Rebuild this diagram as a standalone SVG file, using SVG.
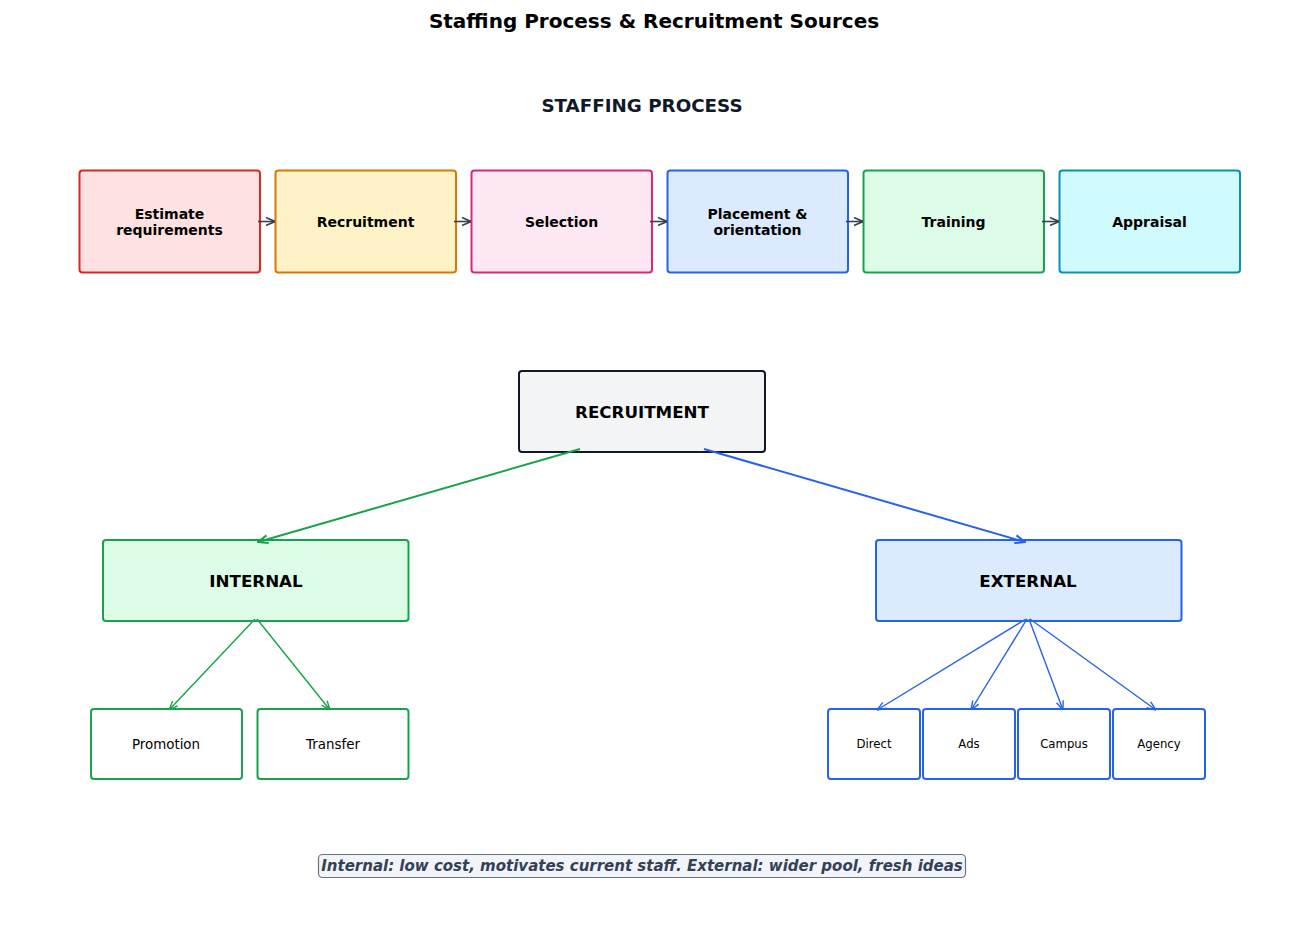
<svg xmlns="http://www.w3.org/2000/svg" width="1307" height="946" viewBox="0 0 1307 946">
<style>
text{font-family:"DejaVu Sans",sans-serif;text-anchor:middle;dominant-baseline:central}
.t{font-weight:bold;font-size:14px;fill:#000}
.b{stroke-width:2}
.lg{font-weight:bold;font-size:16.7px;fill:#000}
.s{font-size:13.4px;fill:#000}
.xs{font-size:11.7px;fill:#000}
</style>
<defs>
<marker id="ag" viewBox="0 0 10 10" refX="10" refY="5" markerWidth="10" markerHeight="10" markerUnits="userSpaceOnUse" orient="auto"><path d="M1,1 L10,5 L1,9" fill="none" stroke="#374151" stroke-width="1.6"/></marker>
<marker id="gr" viewBox="0 0 12 12" refX="11" refY="6" markerWidth="12" markerHeight="12" markerUnits="userSpaceOnUse" orient="auto"><path d="M1,2 L11,6 L1,10" fill="none" stroke="#16a34a" stroke-width="2"/></marker>
<marker id="bl" viewBox="0 0 12 12" refX="11" refY="6" markerWidth="12" markerHeight="12" markerUnits="userSpaceOnUse" orient="auto"><path d="M1,2 L11,6 L1,10" fill="none" stroke="#2563eb" stroke-width="2"/></marker>
<marker id="gr2" viewBox="0 0 10 10" refX="10" refY="5" markerWidth="10" markerHeight="10" markerUnits="userSpaceOnUse" orient="auto"><path d="M1,1.5 L10,5 L1,8.5" fill="none" stroke="#16a34a" stroke-width="1.4"/></marker>
<marker id="bl2" viewBox="0 0 10 10" refX="10" refY="5" markerWidth="10" markerHeight="10" markerUnits="userSpaceOnUse" orient="auto"><path d="M1,1.5 L10,5 L1,8.5" fill="none" stroke="#2563eb" stroke-width="1.4"/></marker>
</defs>
<rect width="1307" height="946" fill="#fff"/>
<text x="654" y="21" style="font-weight:bold;font-size:20px;fill:#000">Staffing Process &amp; Recruitment Sources</text>
<text x="642" y="105" style="font-weight:bold;font-size:18.3px;fill:#111827">STAFFING PROCESS</text>

<g id="step1"><rect class="b" x="79.5" y="170.5" width="180.5" height="102" rx="3" fill="#fee2e2" stroke="#dc2626"/><text class="t" x="169.5" y="213.5">Estimate</text><text class="t" x="169.5" y="229.5">requirements</text></g>
<g id="step2"><rect class="b" x="275.5" y="170.5" width="180.5" height="102" rx="3" fill="#fef3c7" stroke="#d97706"/><text class="t" x="365.5" y="221.5">Recruitment</text></g>
<g id="step3"><rect class="b" x="471.5" y="170.5" width="180.5" height="102" rx="3" fill="#fce7f3" stroke="#db2777"/><text class="t" x="561.5" y="221.5">Selection</text></g>
<g id="step4"><rect class="b" x="667.5" y="170.5" width="180.5" height="102" rx="3" fill="#dbeafe" stroke="#2563eb"/><text class="t" x="757.5" y="213.5">Placement &amp;</text><text class="t" x="757.5" y="229.5">orientation</text></g>
<g id="step5"><rect class="b" x="863.5" y="170.5" width="180.5" height="102" rx="3" fill="#dcfce7" stroke="#16a34a"/><text class="t" x="953.5" y="221.5">Training</text></g>
<g id="step6"><rect class="b" x="1059.5" y="170.5" width="180.5" height="102" rx="3" fill="#cffafe" stroke="#0891b2"/><text class="t" x="1149.5" y="221.5">Appraisal</text></g>

<g id="recruitment"><rect class="b" x="519" y="371" width="246" height="81" rx="3" fill="#f3f4f6" stroke="#111827"/><text class="lg" x="642" y="411.5">RECRUITMENT</text></g>
<g id="internal"><rect class="b" x="103" y="540" width="305.5" height="81" rx="3" fill="#dcfce7" stroke="#16a34a"/><text class="lg" x="256" y="580.5">INTERNAL</text></g>
<g id="external"><rect class="b" x="876" y="540" width="305.5" height="81" rx="3" fill="#dbeafe" stroke="#2563eb"/><text class="lg" x="1028" y="580.5">EXTERNAL</text></g>

<g id="promotion"><rect class="b" x="91" y="709" width="151" height="70" rx="3" fill="#fff" stroke="#16a34a"/><text class="s" x="166" y="744">Promotion</text></g>
<g id="transfer"><rect class="b" x="257.5" y="709" width="151" height="70" rx="3" fill="#fff" stroke="#16a34a"/><text class="s" x="333" y="744">Transfer</text></g>

<g id="direct"><rect class="b" x="828" y="709" width="92" height="70" rx="3" fill="#fff" stroke="#2563eb"/><text class="xs" x="874" y="744">Direct</text></g>
<g id="ads"><rect class="b" x="923" y="709" width="92" height="70" rx="3" fill="#fff" stroke="#2563eb"/><text class="xs" x="969" y="744">Ads</text></g>
<g id="campus"><rect class="b" x="1018" y="709" width="92" height="70" rx="3" fill="#fff" stroke="#2563eb"/><text class="xs" x="1064" y="744">Campus</text></g>
<g id="agency"><rect class="b" x="1113" y="709" width="92" height="70" rx="3" fill="#fff" stroke="#2563eb"/><text class="xs" x="1159" y="744">Agency</text></g>

<g id="connectors">
<g stroke="#374151" stroke-width="1.6" fill="none">
<line x1="258" y1="221.5" x2="275" y2="221.5" marker-end="url(#ag)"/>
<line x1="454" y1="221.5" x2="471" y2="221.5" marker-end="url(#ag)"/>
<line x1="650" y1="221.5" x2="667" y2="221.5" marker-end="url(#ag)"/>
<line x1="846" y1="221.5" x2="863" y2="221.5" marker-end="url(#ag)"/>
<line x1="1042" y1="221.5" x2="1059" y2="221.5" marker-end="url(#ag)"/>
</g>
<line x1="580" y1="449" x2="258" y2="542" stroke="#16a34a" stroke-width="2" marker-end="url(#gr)"/>
<line x1="704" y1="449" x2="1025" y2="542" stroke="#2563eb" stroke-width="2" marker-end="url(#bl)"/>
<g stroke="#16a34a" stroke-width="1.4">
<line x1="255" y1="619" x2="169" y2="710" marker-end="url(#gr2)"/>
<line x1="257" y1="619" x2="330" y2="710" marker-end="url(#gr2)"/>
</g>
<g stroke="#2563eb" stroke-width="1.4">
<line x1="1026" y1="619" x2="877" y2="710" marker-end="url(#bl2)"/>
<line x1="1027" y1="619" x2="971" y2="710" marker-end="url(#bl2)"/>
<line x1="1029" y1="619" x2="1063" y2="710" marker-end="url(#bl2)"/>
<line x1="1030" y1="619" x2="1156" y2="710" marker-end="url(#bl2)"/>
</g>
</g>

<g id="note"><rect x="318.5" y="854.5" width="647" height="23" rx="4" fill="#f1f5f9" stroke="#6b7280" stroke-width="1.2"/><text x="642" y="866" style="font-weight:bold;font-style:italic;font-size:15px;fill:#334155">Internal: low cost, motivates current staff. External: wider pool, fresh ideas</text></g>
</svg>
